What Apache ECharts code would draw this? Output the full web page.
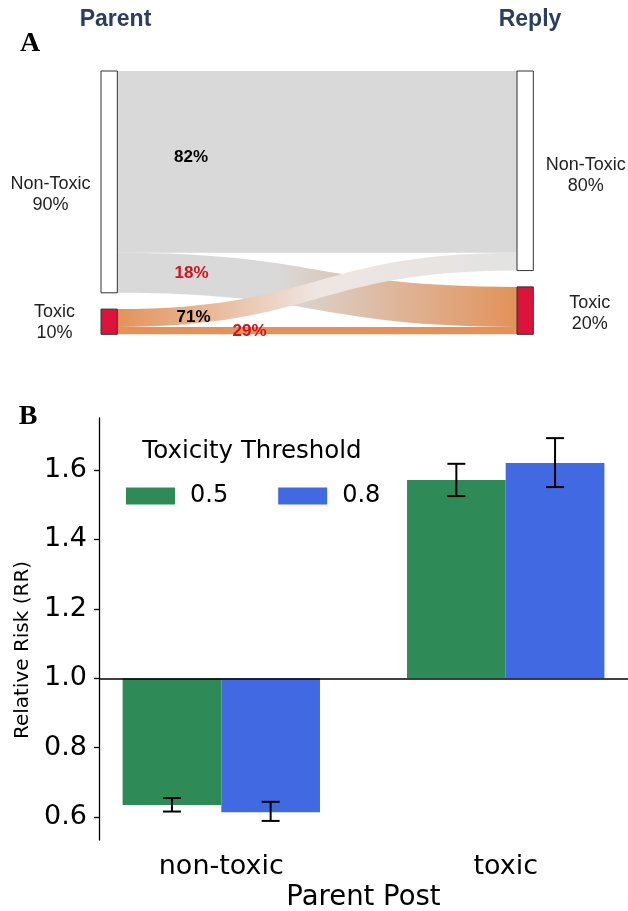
<!DOCTYPE html>
<html>
<head>
<meta charset="utf-8">
<script src="https://cdn.jsdelivr.net/npm/echarts@6/dist/echarts.min.js"></script>
<style>
  html, body { margin: 0; padding: 0; background: #fff; }
  #chart { width: 628px; height: 911px; }
</style>
</head>
<body>
<div id="chart"></div>
<script>
// ---- panel A: toxicity of parent -> reply ----
const toxLevels = ['Non-Toxic', 'Toxic'];
const parentShare = [90, 10];
const replyShare = [80, 20];
// flows as share of all pairs: NT->NT, NT->T, T->NT, T->T
const flowFrom = [0, 0, 1, 1];
const flowTo = [0, 1, 0, 1];
const flowValue = [73.6, 16.2, 7.2, 3.0];
const flowPct = [82, 18, 71, 29];

// ---- panel B: relative risk by parent post ----
const categories = ['non-toxic', 'toxic'];
const thresholds = ['0.5', '0.8'];
const rrMean = [[0.635, 1.571], [0.614, 1.620]];
const rrLow = [[0.616, 1.525], [0.589, 1.551]];
const rrHigh = [[0.655, 1.618], [0.644, 1.692]];
const yTicks = [0.6, 0.8, 1.0, 1.2, 1.4, 1.6];

const sansA = '"Liberation Sans", Arial, sans-serif';
const sansB = '"DejaVu Sans", sans-serif';
const gray = '#d9d9d9';
const orange = '#e3925a';
const barColors = ['#2e8b57', '#4169e1'];
const barW = 0.347;   // width of one bar, in category units
const cap = 9;        // half width of error cap, px

function grad(stops) {
    return new echarts.graphic.LinearGradient(0, 0, 1, 0,
        stops.map(s => ({ offset: s[0], color: s[1] })));
}
const linkColors = [
    gray,
    grad([[0, gray], [0.4, gray], [1, orange]]),
    grad([[0, orange], [0.5, '#efe6e1'], [1, '#e3e3e3']]),
    orange
];

// label nudges for the node texts [dx, dy]
const leftNudge = [[-50, 13], [-46, 1]];
const rightNudge = [[52, 5], [56, 3]];

let nodes = [];
toxLevels.forEach((t, i) => {
    nodes.push({
        name: 'p' + i,
        itemStyle: { color: i === 0 ? '#ffffff' : '#dc143c', borderColor: '#333', borderWidth: 1 },
        label: { position: ['0%', '50%'], offset: leftNudge[i], formatter: t + '\n' + parentShare[i] + '%' }
    });
});
toxLevels.forEach((t, i) => {
    nodes.push({
        name: 'r' + i,
        itemStyle: { color: i === 0 ? '#ffffff' : '#dc143c', borderColor: '#333', borderWidth: 1 },
        label: { position: ['100%', '50%'], offset: rightNudge[i], formatter: t + '\n' + replyShare[i] + '%' }
    });
});
const links = flowValue.map((v, k) => ({
    source: 'p' + flowFrom[k],
    target: 'r' + flowTo[k],
    value: v,
    lineStyle: { color: linkColors[k], opacity: 1, curveness: 0.5 }
}));

// where the percentage texts sit on the ribbons
const flowLabelPos = [[191, 157], [191.5, 273], [193.5, 317], [249.5, 331]];

let graphics = [
    { type: 'text', x: 115.5, y: 20, style: { text: 'Parent', font: 'bold 23px ' + sansA, fill: '#2a3f5f', align: 'center', verticalAlign: 'middle' } },
    { type: 'text', x: 530, y: 20, style: { text: 'Reply', font: 'bold 23px ' + sansA, fill: '#2a3f5f', align: 'center', verticalAlign: 'middle' } },
    { type: 'text', x: 30, y: 44, style: { text: 'A', font: 'bold 28px "Liberation Serif", serif', fill: '#000', align: 'center', verticalAlign: 'middle' } },
    { type: 'text', x: 28, y: 417, style: { text: 'B', font: 'bold 28px "Liberation Serif", serif', fill: '#000', align: 'center', verticalAlign: 'middle' } },
    { type: 'text', x: 252, y: 452, style: { text: 'Toxicity Threshold', font: '24.5px ' + sansB, fill: '#000', align: 'center', verticalAlign: 'middle' } }
];
flowPct.forEach((p, k) => {
    graphics.push({
        type: 'text', x: flowLabelPos[k][0], y: flowLabelPos[k][1], z: 10,
        style: {
            text: p + '%', font: 'bold 17px ' + sansA,
            fill: flowTo[k] === 0 ? '#000' : '#d0141e',
            align: 'center', verticalAlign: 'middle'
        }
    });
});

function barItem(k) {
    return function (params, api) {
        const x = api.value(0), v = api.value(1), lo = api.value(2), hi = api.value(3);
        const x0 = k === 0 ? x - barW : x;
        const x1 = x0 + barW;
        const p0 = api.coord([x0, 1]);
        const p1 = api.coord([x1, v]);
        const e0 = api.coord([(x0 + x1) / 2, lo]);
        const e1 = api.coord([(x0 + x1) / 2, hi]);
        const ls = { stroke: '#000', lineWidth: 2 };
        return {
            type: 'group',
            children: [
                { type: 'rect', shape: { x: p0[0], y: Math.min(p0[1], p1[1]), width: p1[0] - p0[0], height: Math.abs(p1[1] - p0[1]) }, style: { fill: barColors[k] } },
                { type: 'line', shape: { x1: e0[0], y1: e0[1], x2: e1[0], y2: e1[1] }, style: ls },
                { type: 'line', shape: { x1: e0[0] - cap, y1: e0[1], x2: e0[0] + cap, y2: e0[1] }, style: ls },
                { type: 'line', shape: { x1: e1[0] - cap, y1: e1[1], x2: e1[0] + cap, y2: e1[1] }, style: ls }
            ]
        };
    };
}

const barSeries = thresholds.map((t, k) => ({
    type: 'custom',
    name: t,
    xAxisIndex: 0,
    yAxisIndex: 0,
    itemStyle: { color: barColors[k] },
    renderItem: barItem(k),
    data: rrMean[k].map((v, i) => [i, v, rrLow[k][i], rrHigh[k][i]]),
    silent: true,
    markLine: k === 0 ? {
        silent: true,
        symbol: 'none',
        label: { show: false },
        lineStyle: { color: '#000', width: 1.5, type: 'solid' },
        data: [{ yAxis: 1 }]
    } : undefined
}));

var chart = echarts.init(document.getElementById('chart'), null, { renderer: 'canvas' });
var option = {
    animation: false,
    backgroundColor: '#fff',
    graphic: graphics,
    legend: {
        data: thresholds,
        left: 121,
        top: 479,
        icon: 'rect',
        itemWidth: 49,
        itemHeight: 17,
        itemGap: 50,
        textStyle: { fontFamily: sansB, fontSize: 24, color: '#000', padding: [0, 0, 0, 10] }
    },
    grid: {
        left: 99, right: 0, top: 418, bottom: 71,
        containLabel: false,
        outerBoundsMode: 'none'
    },
    xAxis: {
        type: 'value',
        min: -0.43,
        max: 1.43,
        axisLine: { show: false, onZero: false },
        axisTick: { show: false },
        splitLine: { show: false },
        axisLabel: {
            customValues: [0, 1],
            formatter: v => categories[Math.round(v)],
            fontFamily: sansB, fontSize: 27, color: '#000', margin: 13
        },
        name: 'Parent Post',
        nameLocation: 'middle',
        nameGap: 44,
        nameTextStyle: { fontFamily: sansB, fontSize: 27.5, color: '#000' }
    },
    yAxis: {
        type: 'value',
        min: 0.534,
        max: 1.75,
        axisLine: { show: true, onZero: false, lineStyle: { color: '#000', width: 1.3 } },
        axisTick: { show: true, customValues: yTicks, length: 5, lineStyle: { color: '#000', width: 1.3 } },
        splitLine: { show: false },
        axisLabel: {
            customValues: yTicks,
            formatter: v => v.toFixed(1),
            fontFamily: sansB, fontSize: 27, color: '#000', margin: 12
        },
        name: 'Relative Risk (RR)',
        nameLocation: 'middle',
        nameRotate: 90,
        nameGap: 66,
        nameTextStyle: { fontFamily: sansB, fontSize: 20, color: '#000', padding: [0, 42, 0, 0] }
    },
    series: [{
        type: 'sankey',
        left: 101,
        right: 94.7,
        top: 71,
        bottom: 576.7,
        nodeWidth: 16.3,
        nodeGap: 16.3,
        layoutIterations: 0,
        draggable: false,
        silent: true,
        emphasis: { disabled: true },
        label: {
            show: true,
            align: 'center',
            verticalAlign: 'middle',
            fontFamily: sansA,
            fontSize: 18,
            lineHeight: 21,
            color: '#222'
        },
        data: nodes,
        links: links
    }].concat(barSeries)
};
chart.setOption(option);
</script>
</body>
</html>
